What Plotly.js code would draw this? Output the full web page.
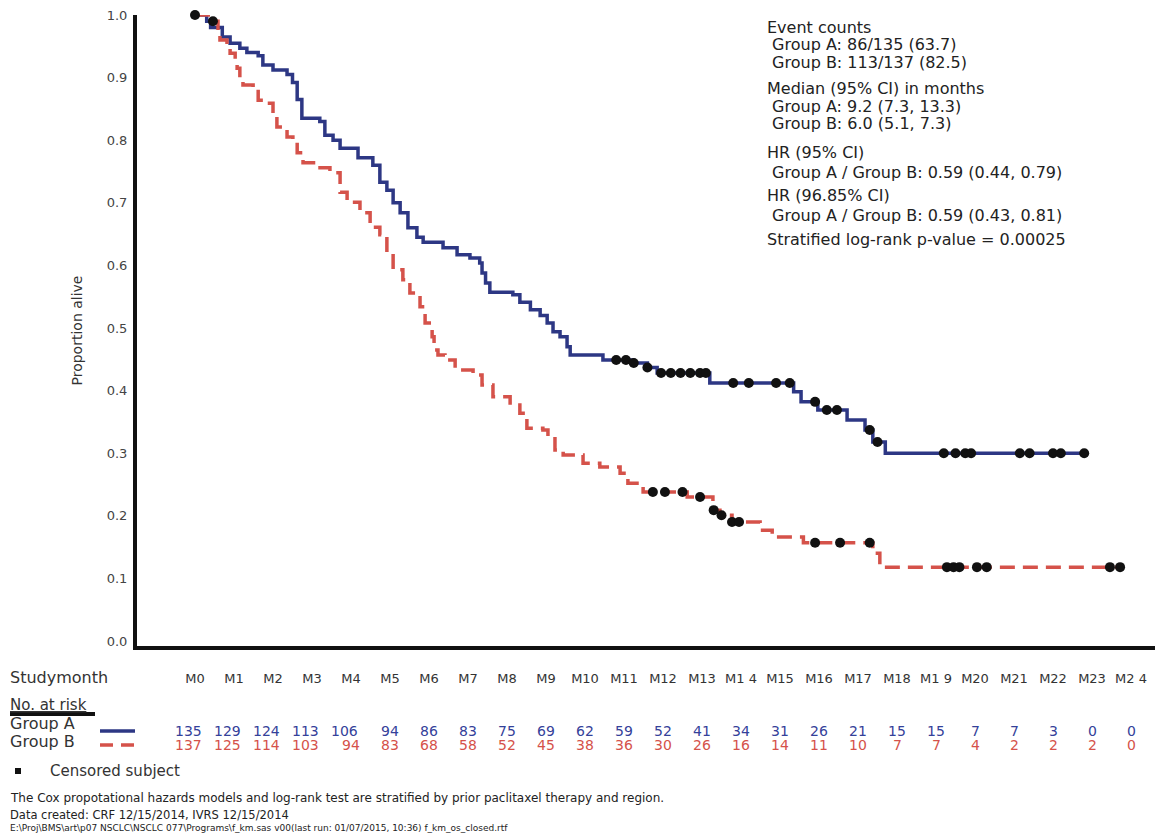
<!DOCTYPE html>
<html>
<head>
<meta charset="utf-8">
<script src="https://cdn.plot.ly/plotly-3.0.1.min.js"></script>
<style>html,body{margin:0;padding:0;background:#fff;}#chart{width:1155px;height:837px;}</style>
</head>
<body>
<div id="chart"></div>
<script>
// ---------- data ----------
const monthTicks = [0,1,2,3,4,5,6,7,8,9,10,11,12,13,14,15,16,17,18,19,20,21,22,23,24];
const monthLabels = ['M0','M1','M2','M3','M4','M5','M6','M7','M8','M9','M10','M11','M12','M13','M1 4','M15','M16','M17','M18','M1 9','M20','M21','M22','M23','M2 4'];
const atRiskA = [135,129,124,113,106,94,86,83,75,69,62,59,52,41,34,31,26,21,15,15,7,7,3,0,0];
const atRiskB = [137,125,114,103,94,83,68,58,52,45,38,36,30,26,16,14,11,10,7,7,4,2,2,2,0];

const timeA = [0,0.3,0.4,0.7,0.9,1.15,1.33,1.62,1.74,2.0,2.36,2.5,2.62,2.74,3.2,3.33,3.54,3.72,4.18,4.56,4.74,4.92,5.08,5.26,5.46,5.69,5.85,6.36,6.72,7.05,7.3,7.36,7.45,7.56,8.15,8.33,8.6,8.85,9.03,9.18,9.36,9.54,9.62,10.46,11.23,11.6,11.85,13.2,15.35,15.54,15.97,16.72,17.18,17.38,17.7,22.8];
const survA = [1.0,0.99,0.98,0.965,0.955,0.947,0.94,0.935,0.92,0.912,0.905,0.892,0.865,0.835,0.83,0.808,0.80,0.787,0.772,0.76,0.733,0.72,0.70,0.684,0.66,0.645,0.637,0.628,0.617,0.612,0.604,0.588,0.572,0.557,0.553,0.541,0.529,0.52,0.508,0.494,0.486,0.47,0.457,0.449,0.444,0.437,0.428,0.412,0.398,0.382,0.369,0.353,0.337,0.318,0.30,0.30];

const timeB = [0,0.46,0.59,0.64,0.82,0.9,1.03,1.08,1.15,1.23,1.49,1.62,1.85,2.0,2.1,2.36,2.51,2.62,2.77,3.13,3.46,3.72,3.9,4.23,4.49,4.74,4.92,5.08,5.33,5.51,5.77,5.9,6.08,6.13,6.23,6.41,6.67,7.13,7.36,7.64,8.08,8.33,8.51,8.92,9.05,9.23,9.44,9.95,10.38,10.9,11.1,11.49,12.62,13.28,13.46,13.77,14.49,14.8,15.6,17.38,17.56,23.8];
const survB = [1.0,0.99,0.968,0.96,0.949,0.939,0.923,0.915,0.896,0.888,0.885,0.864,0.859,0.84,0.821,0.805,0.80,0.78,0.764,0.756,0.748,0.717,0.701,0.684,0.661,0.649,0.62,0.593,0.577,0.556,0.534,0.508,0.486,0.465,0.457,0.449,0.433,0.425,0.409,0.39,0.38,0.364,0.34,0.337,0.326,0.305,0.297,0.284,0.278,0.268,0.252,0.238,0.23,0.209,0.201,0.19,0.177,0.166,0.157,0.14,0.118,0.118];

const censorTimeA = [10.8,11.05,11.25,11.6,11.95,12.2,12.45,12.7,12.95,13.1,13.8,14.2,14.9,15.25,15.9,16.2,16.46,17.3,17.5,19.2,19.5,19.75,19.9,21.15,21.4,22.0,22.2,22.8];
const censorSurvA = [0.449,0.449,0.444,0.437,0.428,0.428,0.428,0.428,0.428,0.428,0.412,0.412,0.412,0.412,0.382,0.369,0.369,0.337,0.318,0.30,0.30,0.30,0.30,0.30,0.30,0.30,0.30,0.30];
const censorTimeB = [0,0.46,11.74,12.05,12.5,12.95,13.3,13.5,13.77,13.95,15.9,16.54,17.3,19.28,19.45,19.6,20.05,20.3,23.46,23.72];
const censorSurvB = [1.0,0.99,0.238,0.238,0.238,0.23,0.209,0.201,0.19,0.19,0.157,0.157,0.157,0.118,0.118,0.118,0.118,0.118,0.118,0.118];

const statLines = [
  'Event counts',
  '  Group A: 86/135 (63.7)',
  '  Group B: 113/137 (82.5)',
  'Median (95% CI) in months',
  '  Group A: 9.2 (7.3, 13.3)',
  '  Group B: 6.0 (5.1, 7.3)',
  'HR (95% CI)',
  '  Group A / Group B: 0.59 (0.44, 0.79)',
  'HR (96.85% CI)',
  '  Group A / Group B: 0.59 (0.43, 0.81)',
  'Stratified log-rank p-value = 0.00025'
];
const statLineY = [27,45,63,88,106,124,152,172,195,215,240];

const footnotes = [
  'The Cox propotational hazards models and log-rank test are stratified by prior paclitaxel therapy and region.',
  'Data created: CRF 12/15/2014, IVRS 12/15/2014',
  'E:\\Proj\\BMS\\art\\p07 NSCLC\\NSCLC 077\\Programs\\f_km.sas v00(last run: 01/07/2015, 10:36) f_km_os_closed.rtf'
];

// ---------- layout helpers (pixel -> paper) ----------
const L = 137, R = 1155, T = 15, B = 646;
const px = x => (x - L) / (R - L);
const py = y => (B - y) / (B - T);

const BLUE = '#2d3784';
const RED = '#d5524a';
const FONT = 'DejaVu Sans, Verdana, sans-serif';

const traces = [
  {x: timeA, y: survA, mode: 'lines', line: {shape: 'hv', color: BLUE, width: 3.5}, hoverinfo: 'skip', cliponaxis: false},
  {x: timeB, y: survB, mode: 'lines', line: {shape: 'hv', color: RED, width: 3.5, dash: '15px,8px'}, hoverinfo: 'skip', cliponaxis: false},
  {x: censorTimeA, y: censorSurvA, mode: 'markers', marker: {color: '#111', size: 10, symbol: 'circle'}, hoverinfo: 'skip', cliponaxis: false},
  {x: censorTimeB, y: censorSurvB, mode: 'markers', marker: {color: '#111', size: 10, symbol: 'circle'}, hoverinfo: 'skip', cliponaxis: false}
];

const annotations = [];
statLines.forEach((t, i) => {
  annotations.push({xref: 'paper', yref: 'paper', x: px(765), y: py(statLineY[i]), xanchor: 'left', yanchor: 'middle',
    text: t.replace(/^  /, '&nbsp;'), showarrow: false, font: {family: FONT, size: 16, color: '#222'}});
});
annotations.push({xref: 'paper', yref: 'paper', x: px(8), y: py(678), xanchor: 'left', yanchor: 'middle',
  text: 'Studymonth', showarrow: false, font: {family: FONT, size: 16, color: '#333'}});
annotations.push({xref: 'paper', yref: 'paper', x: px(8), y: py(705), xanchor: 'left', yanchor: 'middle',
  text: '<u>No. at risk</u>', showarrow: false, font: {family: FONT, size: 15, color: '#333'}});
annotations.push({xref: 'paper', yref: 'paper', x: px(8), y: py(723), xanchor: 'left', yanchor: 'middle',
  text: 'Group A', showarrow: false, font: {family: FONT, size: 16, color: '#333'}});
annotations.push({xref: 'paper', yref: 'paper', x: px(8), y: py(741), xanchor: 'left', yanchor: 'middle',
  text: 'Group B', showarrow: false, font: {family: FONT, size: 16, color: '#333'}});
monthTicks.forEach((m, i) => {
  annotations.push({xref: 'x', yref: 'paper', x: m, y: py(731), xanchor: 'center', yanchor: 'middle',
    xshift: atRiskA[i] >= 100 ? -7 : 0,
    text: String(atRiskA[i]), showarrow: false, font: {family: FONT, size: 14, color: '#34419a'}});
  annotations.push({xref: 'x', yref: 'paper', x: m, y: py(745), xanchor: 'center', yanchor: 'middle',
    xshift: atRiskB[i] >= 100 ? -7 : 0,
    text: String(atRiskB[i]), showarrow: false, font: {family: FONT, size: 14, color: RED}});
});
annotations.push({xref: 'paper', yref: 'paper', x: px(48), y: py(771), xanchor: 'left', yanchor: 'middle',
  text: 'Censored subject', showarrow: false, font: {family: FONT, size: 15, color: '#333'}});
annotations.push({xref: 'paper', yref: 'paper', x: px(8), y: py(798), xanchor: 'left', yanchor: 'middle',
  text: footnotes[0], showarrow: false, font: {family: FONT, size: 12, color: '#222'}});
annotations.push({xref: 'paper', yref: 'paper', x: px(8), y: py(815), xanchor: 'left', yanchor: 'middle',
  text: footnotes[1], showarrow: false, font: {family: FONT, size: 11.5, color: '#222'}});
annotations.push({xref: 'paper', yref: 'paper', x: px(8), y: py(828), xanchor: 'left', yanchor: 'middle',
  text: footnotes[2], showarrow: false, font: {family: FONT, size: 9, color: '#222'}});

const shapes = [
  {type: 'line', xref: 'paper', yref: 'paper', x0: px(10), x1: px(95), y0: py(714), y1: py(714), line: {color: '#111', width: 4}},
  {type: 'line', xref: 'paper', yref: 'paper', x0: px(100), x1: px(135), y0: py(731), y1: py(731), line: {color: BLUE, width: 3.5}},
  {type: 'line', xref: 'paper', yref: 'paper', x0: px(100), x1: px(135), y0: py(745), y1: py(745), line: {color: RED, width: 3.5, dash: '13px,8px'}},
  {type: 'rect', xref: 'paper', yref: 'paper', x0: px(15), x1: px(21), y0: py(768), y1: py(774), fillcolor: '#111', line: {width: 0}}
];

const layout = {
  width: 1155, height: 837,
  margin: {l: L, r: 1155 - R, t: T, b: 837 - B, pad: 0},
  paper_bgcolor: '#fff', plot_bgcolor: '#fff',
  showlegend: false,
  font: {family: FONT, size: 14, color: '#333'},
  xaxis: {
    range: [-58 / 39, (R - 195) / 39],
    tickvals: monthTicks, ticktext: monthLabels,
    ticks: '', showgrid: false, zeroline: false,
    showline: true, linecolor: '#111', linewidth: 4,
    ticklabelstandoff: 17,
    tickfont: {family: FONT, size: 13, color: '#333'}
  },
  yaxis: {
    range: [-0.008, 1.0],
    tickvals: [0,0.1,0.2,0.3,0.4,0.5,0.6,0.7,0.8,0.9,1.0],
    ticktext: ['0.0','0.1','0.2','0.3','0.4','0.5','0.6','0.7','0.8','0.9','1.0'],
    ticks: '', showgrid: false, zeroline: false,
    showline: true, linecolor: '#111', linewidth: 4,
    ticklabelstandoff: 3,
    tickfont: {family: FONT, size: 13, color: '#444'},
    title: {text: 'Proportion alive', standoff: 22, font: {family: FONT, size: 14, color: '#333'}}
  },
  annotations: annotations,
  shapes: shapes
};

Plotly.newPlot('chart', traces, layout, {displayModeBar: false, staticPlot: true});
</script>
</body>
</html>
